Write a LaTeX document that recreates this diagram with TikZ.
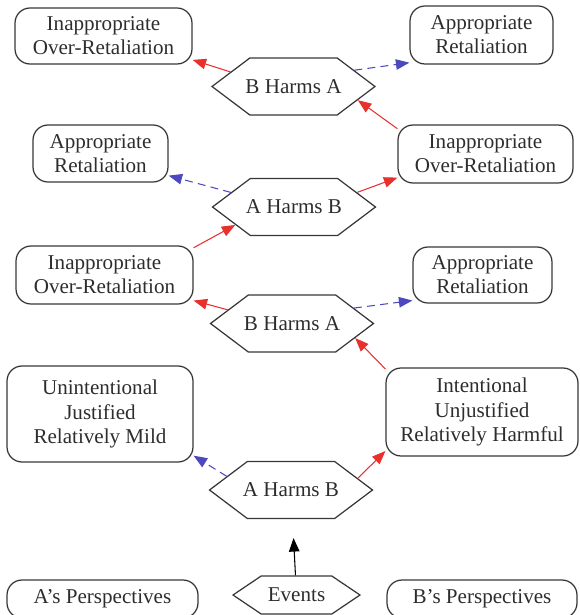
\documentclass[tikz,border=0pt]{standalone}
\usepackage{fontspec}
\setmainfont{Liberation Serif}
\usepackage{xcolor}
\usetikzlibrary{shapes.symbols,arrows.meta}
\definecolor{harmred}{RGB}{232,48,44}
\definecolor{harmblue}{RGB}{78,72,190}
\definecolor{edgegray}{RGB}{55,55,55}
\definecolor{textgray}{RGB}{45,45,45}

\begin{document}
\begin{tikzpicture}[x=0.02cm, y=-0.02cm,
    box/.style={draw=edgegray, line width=0.7pt, rectangle, rounded corners=0.3cm, align=center, text=textgray, inner sep=0pt, minimum height=1.14cm, font=\fontsize{12}{13.7}\selectfont},
    hexa/.style={draw=edgegray, line width=0.7pt, signal, signal to=west and east, signal pointer angle=74, text=textgray, inner ysep=0pt, inner xsep=-2.6pt, minimum width=3.26cm, minimum height=1.14cm, font=\fontsize{12}{13.7}\selectfont},
    redarrow/.style={-{Triangle[length=0.27cm, width=0.21cm]}, harmred, line width=0.6pt},
    bluearrow/.style={-{Triangle[length=0.27cm, width=0.21cm]}, harmblue, line width=0.6pt, dash pattern=on 4.5pt off 3pt},
    blackarrow/.style={-{Triangle[length=0.27cm, width=0.21cm]}, black, line width=0.6pt}
  ]
    \useasboundingbox (0,0) rectangle (579,615);

    % Nodes
    \node[box, minimum width=3.54cm, minimum height=1.12cm] (io1) at (103.5,36) {Inappropriate\\Over-Retaliation};
    \node[box, minimum width=2.86cm, minimum height=1.16cm] (ar1) at (481.5,35) {Appropriate\\Retaliation};
    \node[hexa] (bha2) at (293.5,86.5) {B Harms A};
    \node[box, minimum width=2.7cm] (ar2) at (100.5,153.5) {Appropriate\\Retaliation};
    \node[box, minimum width=3.5cm, minimum height=1.16cm] (io2) at (485.5,154) {Inappropriate\\Over-Retaliation};
    \node[hexa] (ahb2) at (294,207) {A Harms B};
    \node[box, minimum width=3.54cm, minimum height=1.16cm] (io3) at (104.5,275) {Inappropriate\\Over-Retaliation};
    \node[box, minimum width=2.78cm, minimum height=1.12cm] (ar3) at (482.5,275) {Appropriate\\Retaliation};
    \node[hexa] (bha1) at (292,323.5) {B Harms A};
    \node[box, minimum width=3.72cm, minimum height=1.92cm] (ujm) at (100,414) {Unintentional\\Justified\\Relatively Mild};
    \node[box, minimum width=3.84cm, minimum height=1.76cm] (iuh) at (482,412) {Intentional\\Unjustified\\Relatively Harmful};
    \node[hexa] (ahb1) at (291,490) {A Harms B};
    \node[box, minimum width=3.82cm, minimum height=0.76cm] (ap) at (102.5,599) {A’s Perspectives};
    \node[hexa, minimum width=2.54cm, minimum height=0.76cm, signal pointer angle=68] (ev) at (296.5,595) {Events};
    \node[box, minimum width=3.8cm, minimum height=0.76cm] (bp) at (482,599) {B’s Perspectives};

    % Arrows
    \draw[blackarrow, shorten >=0.38cm] (ev) -- (ahb1);
    \draw[bluearrow] (ahb1.168) -- (ujm.-24);
    \draw[redarrow] (ahb1.10) -- (iuh.-158);
    \draw[redarrow] (iuh.156) -- (bha1.-13);
    \draw[redarrow] (bha1.168) -- (io3.-16);
    \draw[bluearrow] (bha1.14) -- (ar3.-160);
    \draw[redarrow] (io3.17) -- (ahb2.-163);
    \draw[bluearrow] (ahb2.167) -- (ar2.-18);
    \draw[redarrow] (ahb2.13) -- (io2.-165);
    \draw[redarrow] (io2.164) -- (bha2.-12);
    \draw[redarrow] (bha2.167) -- (io1.-15.5);
    \draw[bluearrow] (bha2.15.5) -- (ar1.-159);
  \end{tikzpicture}
\end{document}
